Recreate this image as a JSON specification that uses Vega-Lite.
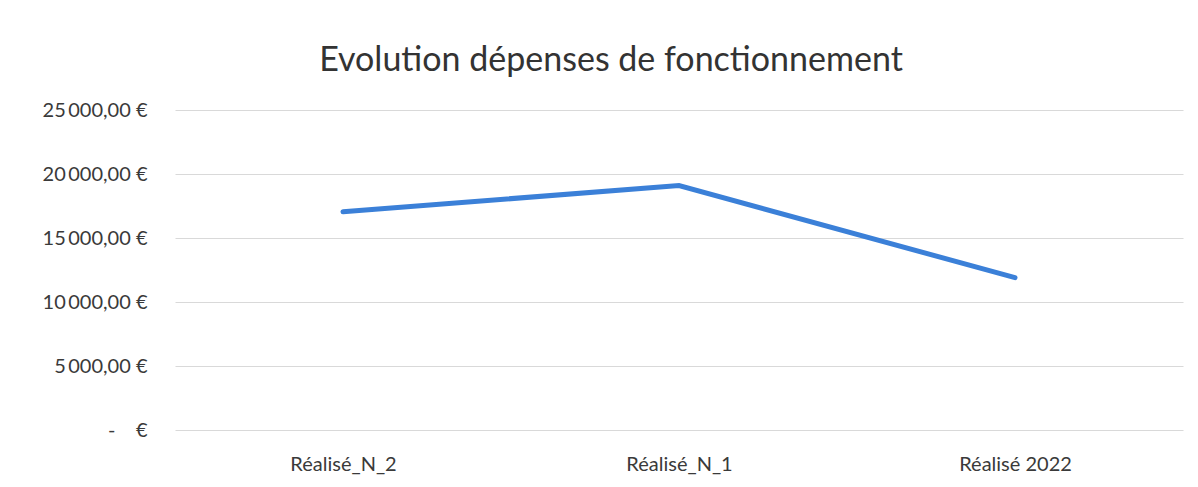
{
  "$schema": "https://vega.github.io/schema/vega-lite/v6.json",
  "autosize": "none",
  "width": 1008,
  "height": 320,
  "padding": {"left": 175, "top": 110, "right": 15, "bottom": 57},
  "background": "white",
  "title": {
    "text": "Evolution dépenses de fonctionnement",
    "font": "Lato",
    "fontSize": 34,
    "fontWeight": "normal",
    "color": "#333333",
    "anchor": "middle",
    "dx": -68,
    "offset": 22
  },
  "data": {
    "values": [
      {"categorie": "Réalisé_N_2", "montant": 17050},
      {"categorie": "Réalisé_N_1", "montant": 19100},
      {"categorie": "Réalisé 2022", "montant": 11900}
    ]
  },
  "mark": {"type": "line", "color": "#3b80d8", "strokeWidth": 5, "strokeCap": "round"},
  "encoding": {
    "x": {
      "field": "categorie",
      "type": "nominal",
      "sort": null,
      "scale": {"paddingInner": 0, "paddingOuter": 0.5},
      "axis": {
        "title": null,
        "labelAngle": 0,
        "labelFont": "Lato",
        "labelFontSize": 20,
        "labelColor": "#3a3a3a",
        "labelPadding": 24,
        "ticks": false,
        "domain": false,
        "grid": false
      }
    },
    "y": {
      "field": "montant",
      "type": "quantitative",
      "scale": {"domain": [0, 25000], "nice": false},
      "axis": {
        "title": null,
        "values": [0, 5000, 10000, 15000, 20000, 25000],
        "labelExpr": "datum.value == 0 ? '-\u00a0\u00a0\u00a0\u00a0€' : replace(replace(format(datum.value, ',.2f'), regexp(',', 'g'), '\u2009'), regexp('\\\\.'), ',') + '\u00a0€'",
        "labelFont": "Lato",
        "labelFontSize": 20,
        "labelColor": "#3a3a3a",
        "labelPadding": 28,
        "ticks": false,
        "domain": false,
        "grid": true,
        "gridColor": "#d9d9d9",
        "gridWidth": 1
      }
    }
  },
  "config": {"view": {"stroke": null}}
}
